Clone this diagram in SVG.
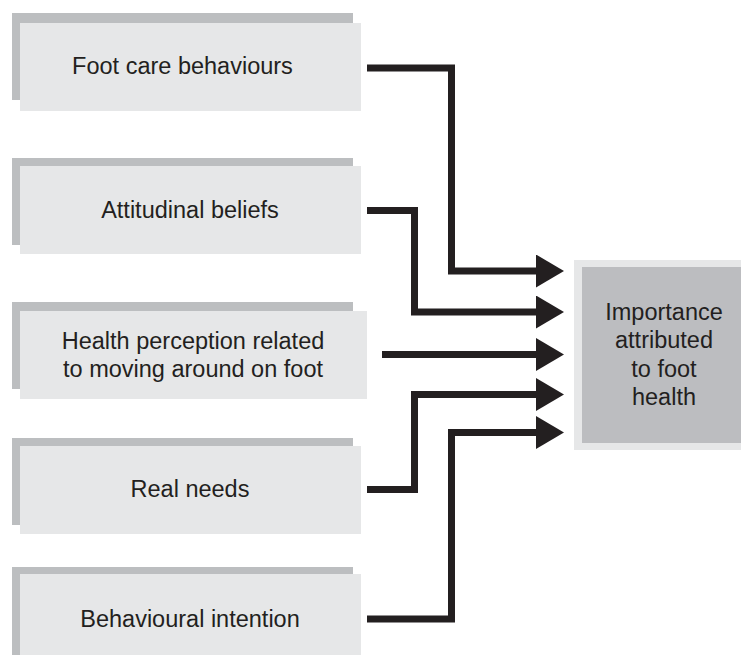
<svg xmlns="http://www.w3.org/2000/svg" width="741" height="655" viewBox="0 0 741 655">
  <defs>
    <style>
      .shadow { fill: #bcbec0; }
      .face { fill: #e6e7e8; }
      .label { font-family: "Liberation Sans", Arial, sans-serif; font-size: 23.5px; fill: #231f20; text-anchor: middle; }
      .link { fill: none; stroke: #231f20; stroke-width: 7; stroke-linejoin: miter; }
    </style>
    <marker id="head" markerUnits="userSpaceOnUse" markerWidth="28" markerHeight="33" refX="0" refY="16.5" orient="auto" viewBox="0 0 28 33">
      <path d="M0,0 L28,16.5 L0,33 Z" fill="#231f20"/>
    </marker>
  </defs>
  <rect width="741" height="655" fill="#ffffff"/>

  <g id="foot-care-behaviours">
    <rect class="shadow" x="12" y="13" width="341" height="87"/>
    <rect class="face" x="20" y="23" width="341" height="88"/>
    <text class="label" x="182.5" y="73.5">Foot care behaviours</text>
  </g>

  <g id="attitudinal-beliefs">
    <rect class="shadow" x="12" y="158" width="341" height="87"/>
    <rect class="face" x="20" y="166" width="341" height="88"/>
    <text class="label" x="190" y="217.5">Attitudinal beliefs</text>
  </g>

  <g id="health-perception">
    <rect class="shadow" x="12" y="302" width="341" height="87"/>
    <rect class="face" x="20" y="311" width="347" height="88"/>
    <text class="label" x="193" y="348.5">Health perception related</text>
    <text class="label" x="193" y="376.5">to moving around on foot</text>
  </g>

  <g id="real-needs">
    <rect class="shadow" x="12" y="438" width="341" height="87"/>
    <rect class="face" x="20" y="446" width="341" height="88"/>
    <text class="label" x="190" y="497">Real needs</text>
  </g>

  <g id="behavioural-intention">
    <rect class="shadow" x="12" y="567" width="341" height="88"/>
    <rect class="face" x="20" y="574" width="341" height="81"/>
    <text class="label" x="190" y="627">Behavioural intention</text>
  </g>

  <g id="importance-foot-health">
    <rect class="face" x="574" y="260" width="167" height="190"/>
    <rect fill="#bcbdc0" x="582" y="267" width="159" height="176"/>
    <text class="label" x="664" y="320">Importance</text>
    <text class="label" x="664" y="348">attributed</text>
    <text class="label" x="664" y="376.5">to foot</text>
    <text class="label" x="664" y="405">health</text>
  </g>

  <g id="connectors">
    <path class="link" marker-end="url(#head)" d="M367,68 H451.5 V271 H536"/>
    <path class="link" marker-end="url(#head)" d="M367,210.5 H414.5 V312 H536"/>
    <path class="link" marker-end="url(#head)" d="M382,354.5 H536"/>
    <path class="link" marker-end="url(#head)" d="M367,489.5 H414.5 V394.5 H536"/>
    <path class="link" marker-end="url(#head)" d="M367,619 H451.5 V432.5 H536"/>
  </g>
</svg>
